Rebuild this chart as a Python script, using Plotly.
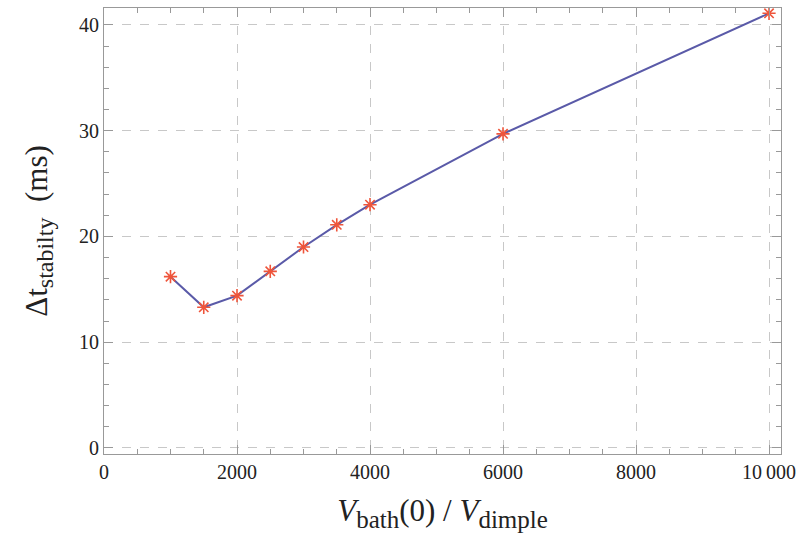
import plotly.graph_objects as go

x_vals = [1000, 1500, 2000, 2500, 3000, 3500, 4000, 6000, 10000]
y_vals = [16.2, 13.3, 14.4, 16.7, 19.0, 21.1, 23.0, 29.7, 41.1]

x_tickvals = [0, 2000, 4000, 6000, 8000, 10000]
x_ticktext = ["0", "2000", "4000", "6000", "8000", "10\u2009000"]
y_tickvals = [0, 10, 20, 30, 40]
y_ticktext = ["0", "10", "20", "30", "40"]

font = "Liberation Serif"
fig = go.Figure()
fig.add_trace(go.Scatter(x=x_vals, y=y_vals, mode="lines",
                         line=dict(color="#5a5aa8", width=2), showlegend=False))
fig.add_trace(go.Scatter(x=x_vals, y=y_vals, mode="markers",
                         marker=dict(symbol="asterisk-open", size=11,
                                     line=dict(color="#e0202a", width=1.6)),
                         showlegend=False))

axis_common = dict(showline=True, linecolor="#999", linewidth=1, mirror="ticks",
                   ticks="inside", ticklen=9, tickcolor="#999",
                   showgrid=True, gridcolor="#c8c8c8", griddash="dash", gridwidth=1,
                   zeroline=False, tickfont=dict(family=font, size=20, color="#222"))

fig.update_xaxes(range=[0, 10180], tickvals=x_tickvals, ticktext=x_ticktext,
                 minor=dict(dtick=500, tick0=0, ticks="inside", ticklen=5, tickcolor="#999", showgrid=False),
                 title=dict(text="<i>V</i><sub><span style=\"font-size:25px\">bath</span></sub>(0) / <i>V</i><sub><span style=\"font-size:25px\">dimple</span></sub>",
                            font=dict(family=font, size=31, color="#222"), standoff=17),
                 **axis_common)
fig.update_yaxes(range=[-0.57, 41.6], tickvals=y_tickvals, ticktext=y_ticktext,
                 minor=dict(dtick=2, tick0=0, ticks="inside", ticklen=5, tickcolor="#999", showgrid=False),
                 title=dict(text="\u0394t<sub><span style=\"font-size:24px\">stabilty</span></sub>\u00a0\u00a0(ms)",
                            font=dict(family=font, size=31, color="#222"), standoff=22),
                 **axis_common)
fig.update_layout(width=811, height=542, margin=dict(l=104, r=30, t=8, b=88),
                  plot_bgcolor="white", paper_bgcolor="white")
fig.write_html("out.html")
